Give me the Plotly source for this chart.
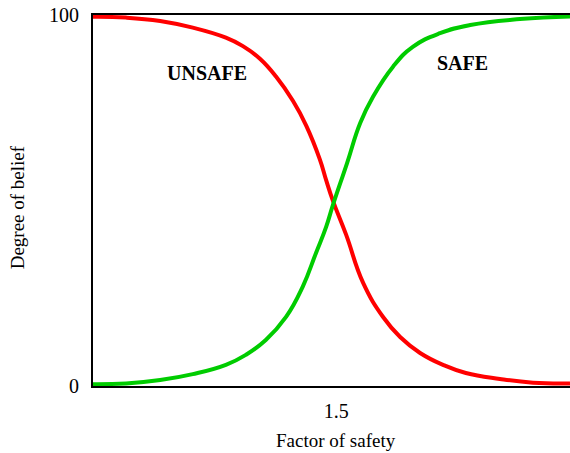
import plotly.graph_objects as go

# Factor of safety values (x) and degree of belief (%) for each curve
unsafe_x = [1.000, 1.068, 1.138, 1.205, 1.273, 1.308, 1.343, 1.376, 1.411, 1.438,
            1.466, 1.479, 1.493, 1.520, 1.555, 1.596, 1.631, 1.672, 1.719, 1.766,
            1.836, 1.904, 1.980]
unsafe_y = [99.5, 99.3, 98.4, 96.6, 93.9, 91.6, 88.2, 83.4, 76.8, 70.2,
            61.1, 55.5, 49.9, 40.8, 27.8, 18.6, 13.2, 8.9, 5.7, 3.5,
            1.9, 0.9, 0.7]

safe_x = [1.000, 1.068, 1.138, 1.205, 1.273, 1.314, 1.355, 1.397, 1.431, 1.458,
          1.479, 1.493, 1.522, 1.549, 1.575, 1.616, 1.657, 1.713, 1.775, 1.877, 1.980]
safe_y = [0.5, 0.7, 1.6, 3.2, 5.7, 8.4, 12.4, 18.7, 26.8, 35.8,
          42.9, 48.8, 60.1, 70.9, 77.9, 86.0, 91.4, 95.1, 97.3, 98.9, 99.6]

x_tick_vals = [1.5]
x_tick_text = ["1.5"]
y_tick_vals = [0, 100]
y_tick_text = ["0", "100"]

FONT = "Liberation Serif"

fig = go.Figure()
fig.add_trace(go.Scatter(x=unsafe_x, y=unsafe_y, mode="lines",
                         line=dict(color="#ff0000", width=4, shape="spline", smoothing=1.3),
                         showlegend=False))
fig.add_trace(go.Scatter(x=safe_x, y=safe_y, mode="lines",
                         line=dict(color="#00cc00", width=4, shape="spline", smoothing=1.3),
                         showlegend=False))

fig.update_layout(
    width=570, height=453,
    margin=dict(l=93, r=0, t=15, b=67),
    paper_bgcolor="white", plot_bgcolor="white",
    font=dict(family=FONT, size=20, color="black"),
    xaxis=dict(range=[1.0, 1.98], tickvals=x_tick_vals, ticktext=x_tick_text,
               showgrid=False, zeroline=False, showline=True, linecolor="black",
               linewidth=2, mirror=True, ticks="", ticklabelstandoff=6,
               tickfont=dict(family=FONT, size=20)),
    yaxis=dict(range=[0, 100], tickvals=y_tick_vals, ticktext=y_tick_text,
               showgrid=False, zeroline=False, showline=True, linecolor="black",
               linewidth=2, mirror=False, ticks="", ticklabelstandoff=8,
               tickfont=dict(family=FONT, size=20)),
    annotations=[
        dict(text="Factor of safety", xref="paper", yref="paper", x=0.509, y=-0.148,
             xanchor="center", yanchor="middle", showarrow=False,
             font=dict(family=FONT, size=19)),
        dict(text="Degree of belief", xref="paper", yref="paper", x=-0.159, y=0.482,
             xanchor="center", yanchor="middle", showarrow=False, textangle=-90,
             font=dict(family=FONT, size=19)),
        dict(text="<b>UNSAFE</b>", x=1.235, y=84.5, xanchor="center", yanchor="middle",
             showarrow=False, font=dict(family=FONT, size=20)),
        dict(text="<b>SAFE</b>", x=1.760, y=87.1, xanchor="center", yanchor="middle",
             showarrow=False, font=dict(family=FONT, size=20)),
    ],
)

fig.write_html("out.html", config={"displayModeBar": False},
               post_script="document.body.style.margin='0';")
